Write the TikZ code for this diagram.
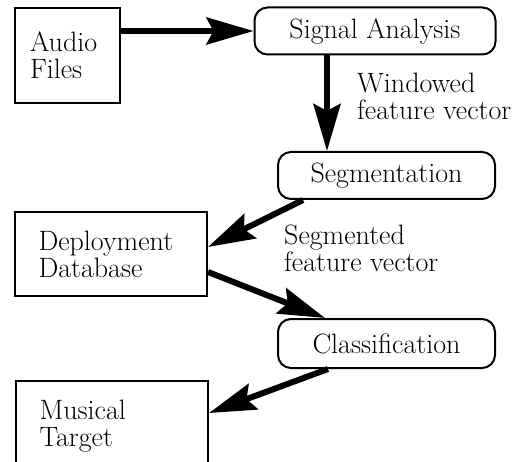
\documentclass[tikz,border=0pt]{standalone}
\usetikzlibrary{arrows.meta}

\begin{document}
\begin{tikzpicture}[x=1pt,y=-1pt,
  font=\fontsize{28}{27}\selectfont,
  box/.style={draw,line width=2pt,minimum width=192pt,minimum height=84pt,text width=145pt,align=left,inner sep=0pt},
  proc/.style={draw,line width=2pt,rounded corners=13pt,minimum width=217pt,minimum height=47pt,inner sep=0pt},
  flow/.style={line width=6pt,-{Stealth[length=47pt,width=27pt,inset=7pt]}},
  lbl/.style={anchor=north west,align=left,inner sep=0pt}]
  \path[use as bounding box,clip] (0,0) rectangle (524,462);

  % Sources and sinks
  \node[box,minimum width=105pt,minimum height=95pt,text width=75pt] (audio) at (67.5,55.5) {Audio\\Files};
  \node[box] (deploy) at (111,254) {Deployment\\Database};
  \node[box,anchor=north west,minimum height=90pt] (target) at (15,380) {Musical\\Target};

  % Processing steps
  \node[proc,minimum width=241pt] (signal) at (375,31) {Signal Analysis};
  \node[proc] (seg) at (386.5,175.5) {Segmentation};
  \node[proc,minimum height=49pt] (class) at (386.5,343.5) {Classification};

  % Labels
  \node[lbl] (winlbl) at (357,73) {Windowed\\feature vector};
  \node[lbl] (seglbl) at (284,225) {Segmented\\feature vector};

  % Flow
  \draw[flow] (audio.east |- signal.west) -- (signal.west);
  \draw[flow] ([xshift=-48pt]signal.south) -- ([xshift=-48pt]signal.south |- seg.north);
  \draw[flow] ([xshift=26pt]seg.south west) -- ([yshift=7pt]deploy.east);
  \draw[flow] ([yshift=-18pt]deploy.east) -- ([xshift=-61.5pt]class.north);
  \draw[flow] ([xshift=-58.5pt]class.south) -- ([yshift=-33pt]target.north east);
\end{tikzpicture}
\end{document}
